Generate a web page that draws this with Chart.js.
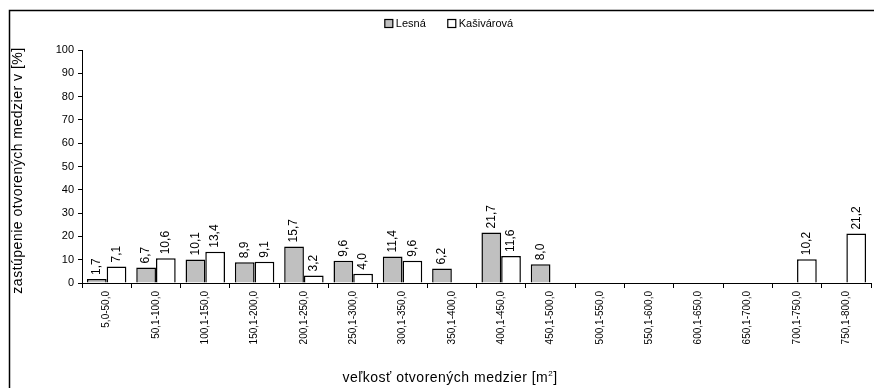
<!DOCTYPE html>
<html>
<head>
<meta charset="utf-8">
<script src="https://cdn.jsdelivr.net/npm/chart.js@4.4.1/dist/chart.umd.min.js"></script>
<style>
  html, body { margin: 0; padding: 0; background: #fff; }
  #wrap { width: 874px; height: 388px; position: relative; }
</style>
</head>
<body>
<div id="wrap"><canvas id="gapChart"></canvas></div>
<script>
// kategórie veľkosti medzier a podiely pre obe lokality
const categories = [
  '5,0-50,0', '50,1-100,0', '100,1-150,0', '150,1-200,0', '200,1-250,0',
  '250,1-300,0', '300,1-350,0', '350,1-400,0', '400,1-450,0', '450,1-500,0',
  '500,1-550,0', '550,1-600,0', '600,1-650,0', '650,1-700,0', '700,1-750,0',
  '750,1-800,0'
];
const lesna = [1.7, 6.7, 10.1, 8.9, 15.7, 9.6, 11.4, 6.2, 21.7, 8.0, null, null, null, null, null, null];
const kasivarova = [7.1, 10.6, 13.4, 9.1, 3.2, 4.0, 9.6, null, 11.6, null, null, null, null, null, 10.2, 21.2];

const yMin = 0;
const yMax = 100;
const yStep = 10;

const FONT = "'Liberation Sans', Arial, sans-serif";

// rámik grafu (len horná a ľavá hrana)
const framePlugin = {
  id: 'frame',
  afterDraw(chart) {
    const ctx = chart.ctx;
    ctx.save();
    ctx.strokeStyle = '#000';
    ctx.lineWidth = 1.5;
    ctx.beginPath();
    ctx.moveTo(9.5, 388);
    ctx.lineTo(9.5, 10.5);
    ctx.lineTo(874, 10.5);
    ctx.stroke();
    ctx.restore();
  }
};

// legenda nad grafom (štvorček + názov série)
const topLegend = {
  id: 'topLegend',
  afterDraw(chart) {
    const ctx = chart.ctx;
    const box = 8, gapText = 3, gapItem = 22, cy = 23.5, cx = 449;
    ctx.save();
    ctx.font = '11px ' + FONT;
    ctx.textBaseline = 'middle';
    ctx.textAlign = 'left';
    const items = chart.data.datasets.map(ds => ({
      ds, w: box + gapText + ctx.measureText(ds.label).width
    }));
    const total = items.reduce((s, it) => s + it.w, 0) + gapItem * (items.length - 1);
    let x = cx - total / 2;
    items.forEach(({ ds, w }) => {
      ctx.fillStyle = ds.backgroundColor;
      ctx.fillRect(x, cy - box / 2, box, box);
      ctx.strokeStyle = '#000';
      ctx.lineWidth = 1.2;
      ctx.strokeRect(x, cy - box / 2, box, box);
      ctx.fillStyle = '#000';
      ctx.fillText(ds.label, x + box + gapText, cy);
      x += w + gapItem;
    });
    ctx.restore();
  }
};

// popisky hodnôt nad stĺpcami, otočené o 90°
const valueLabels = {
  id: 'valueLabels',
  afterDatasetsDraw(chart) {
    const ctx = chart.ctx;
    ctx.save();
    ctx.font = '12px ' + FONT;
    ctx.fillStyle = '#000';
    ctx.textAlign = 'left';
    ctx.textBaseline = 'middle';
    chart.data.datasets.forEach((ds, i) => {
      chart.getDatasetMeta(i).data.forEach((bar, j) => {
        const v = ds.data[j];
        if (v === null || v === undefined) return;
        ctx.save();
        ctx.translate(bar.x, bar.y - 4);
        ctx.rotate(-Math.PI / 2);
        ctx.fillText(v.toFixed(1).replace('.', ','), 0, 0);
        ctx.restore();
      });
    });
    ctx.restore();
  }
};

// názvy osí (os x s horným indexom)
const axisTitles = {
  id: 'axisTitles',
  afterDraw(chart) {
    const ctx = chart.ctx;
    const area = chart.chartArea;
    ctx.save();
    ctx.fillStyle = '#000';
    ctx.letterSpacing = '0.5px';

    // os y
    ctx.font = '14px ' + FONT;
    ctx.textAlign = 'center';
    ctx.textBaseline = 'middle';
    ctx.save();
    ctx.translate(18, (area.top + area.bottom) / 2 + 4);
    ctx.rotate(-Math.PI / 2);
    ctx.fillText('zastúpenie otvorených medzier v [%]', 0, 0);
    ctx.restore();

    // os x
    const main = 'veľkosť otvorených medzier [m';
    ctx.textAlign = 'left';
    ctx.textBaseline = 'alphabetic';
    ctx.font = '14px ' + FONT;
    const w1 = ctx.measureText(main).width;
    const w3 = ctx.measureText(']').width;
    ctx.font = '8px ' + FONT;
    const w2 = ctx.measureText('2').width;
    const x0 = 450 - (w1 + w2 + w3) / 2;
    const y0 = 382;
    ctx.font = '14px ' + FONT;
    ctx.fillText(main, x0, y0);
    ctx.font = '8px ' + FONT;
    ctx.fillText('2', x0 + w1, y0 - 6);
    ctx.font = '14px ' + FONT;
    ctx.fillText(']', x0 + w1 + w2, y0);
    ctx.restore();
  }
};

const ctx = document.getElementById('gapChart').getContext('2d');
new Chart(ctx, {
  type: 'bar',
  data: {
    labels: categories,
    datasets: [
      {
        label: 'Lesná',
        data: lesna,
        backgroundColor: '#c0c0c0',
        borderColor: '#000',
        borderWidth: 1.5,
        categoryPercentage: 0.8,
        barPercentage: 1.0
      },
      {
        label: 'Kašivárová',
        data: kasivarova,
        backgroundColor: '#fff',
        borderColor: '#000',
        borderWidth: 1.5,
        categoryPercentage: 0.8,
        barPercentage: 1.0
      }
    ]
  },
  options: {
    responsive: true,
    maintainAspectRatio: false,
    animation: false,
    layout: { padding: { left: 10, right: 3, top: 50, bottom: 0 } },
    plugins: {
      tooltip: { enabled: false },
      legend: { display: false }
    },
    scales: {
      x: {
        afterFit(scale) { scale.height = 105; },
        grid: {
          offset: true,
          drawOnChartArea: false,
          drawTicks: true,
          tickLength: 5,
          color: '#000'
        },
        border: { display: true, color: '#000', width: 1 },
        ticks: {
          autoSkip: false,
          maxRotation: 90,
          minRotation: 90,
          padding: 3,
          color: '#000',
          font: { family: FONT, size: 10 }
        }
      },
      y: {
        min: yMin,
        max: yMax,
        afterFit(scale) { scale.width = 72; },
        grid: {
          drawOnChartArea: false,
          drawTicks: true,
          tickLength: 4,
          color: '#000'
        },
        border: { display: true, color: '#000', width: 1 },
        ticks: {
          stepSize: yStep,
          padding: 4,
          color: '#000',
          font: { family: FONT, size: 11 }
        }
      }
    }
  },
  plugins: [framePlugin, topLegend, valueLabels, axisTitles]
});
</script>
</body>
</html>
